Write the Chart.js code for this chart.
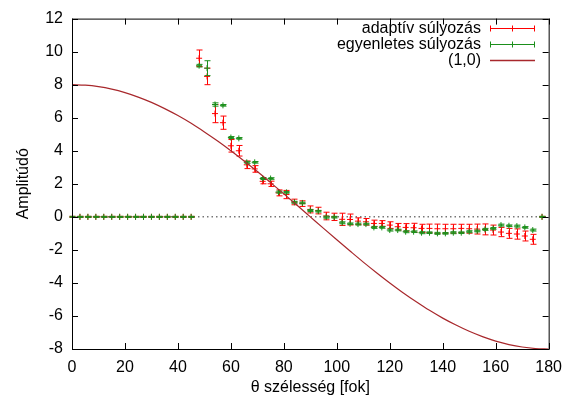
<!DOCTYPE html>
<html>
<head>
<meta charset="utf-8">
<script src="https://cdn.jsdelivr.net/npm/chart.js@4/dist/chart.umd.min.js"></script>
<style>
  html, body { margin: 0; padding: 0; background: #fff; }
  #wrap { width: 571px; height: 403px; }
</style>
</head>
<body>
<div id="wrap"><canvas id="chart" width="571" height="403"></canvas></div>
<script>
// angles (deg) of the measured points
const angles = [0, 3, 6, 9, 12, 15, 18, 21, 24, 27, 30, 33, 36, 39, 42, 45,
  48, 51, 54, 57, 60, 63, 66, 69, 72, 75, 78, 81, 84, 87, 90, 93, 96, 99,
  102, 105, 108, 111, 114, 117, 120, 123, 126, 129, 132, 135, 138, 141, 144,
  147, 150, 153, 156, 159, 162, 165, 168, 171, 174, 177.5];

// adaptív súlyozás
const adaptive = [0, 0, 0, 0, 0, 0, 0, 0, 0, 0, 0, 0, 0, 0, 0, 0,
  9.6, 8.5, 6.25, 5.7, 4.3, 4.0, 3.15, 2.9, 2.15, 2.0, 1.45, 1.35, 0.9, 0.8,
  0.45, 0.38, 0.05, 0.0, -0.15, -0.16, -0.26, -0.3, -0.4, -0.4, -0.5, -0.6,
  -0.64, -0.66, -0.7, -0.7, -0.72, -0.72, -0.72, -0.7, -0.72, -0.74, -0.76,
  -0.8, -0.92, -1.0, -1.04, -1.16, -1.36, 0];
const adaptiveErr = [0.03, 0.03, 0.03, 0.03, 0.03, 0.03, 0.03, 0.03, 0.03, 0.03, 0.03, 0.03, 0.03, 0.03, 0.03, 0.03,
  0.5, 0.5, 0.55, 0.4, 0.38, 0.32, 0.23, 0.2, 0.15, 0.16, 0.18, 0.25, 0.17, 0.17,
  0.21, 0.2, 0.23, 0.22, 0.37, 0.33, 0.2, 0.2, 0.2, 0.17, 0.2, 0.2,
  0.23, 0.27, 0.25, 0.26, 0.28, 0.27, 0.27, 0.25, 0.27, 0.3, 0.33,
  0.3, 0.28, 0.3, 0.31, 0.3, 0.3, 0.03];

// egyenletes súlyozás
const uniform = [0, 0, 0, 0, 0, 0, 0, 0, 0, 0, 0, 0, 0, 0, 0, 0,
  9.15, 9.0, 6.8, 6.75, 4.8, 4.75, 3.3, 3.3, 2.32, 2.32, 1.5, 1.48, 0.88, 0.84,
  0.38, 0.34, -0.02, -0.02, -0.36, -0.42, -0.44, -0.44, -0.64, -0.64, -0.8, -0.8,
  -0.9, -0.9, -0.96, -0.96, -1.0, -1.0, -0.96, -0.96, -0.9, -0.86, -0.76,
  -0.7, -0.5, -0.54, -0.56, -0.64, -0.8, 0];
const uniformErr = [0.03, 0.03, 0.03, 0.03, 0.03, 0.03, 0.03, 0.03, 0.03, 0.03, 0.03, 0.03, 0.03, 0.03, 0.03, 0.03,
  0.08, 0.45, 0.1, 0.05, 0.06, 0.05, 0.06, 0.05, 0.06, 0.05, 0.06, 0.05, 0.06, 0.05,
  0.06, 0.05, 0.06, 0.05, 0.06, 0.05, 0.06, 0.05, 0.06, 0.05, 0.06, 0.05,
  0.06, 0.05, 0.06, 0.05, 0.06, 0.05, 0.06, 0.05, 0.06, 0.05, 0.06,
  0.05, 0.06, 0.05, 0.06, 0.05, 0.06, 0.03];

// (1,0) curve, read every 5 degrees
const curveAngles = [0, 5, 10, 15, 20, 25, 30, 35, 40, 45, 50, 55, 60, 65, 70, 75, 80, 85, 90,
  95, 100, 105, 110, 115, 120, 125, 130, 135, 140, 145, 150, 155, 160, 165, 170, 175, 180];
const curveVals = [8.0, 7.97, 7.88, 7.73, 7.52, 7.25, 6.93, 6.55, 6.13, 5.66, 5.14, 4.59, 4.0,
  3.38, 2.74, 2.07, 1.39, 0.7, 0, -0.7, -1.39, -2.07, -2.74, -3.38, -4.0, -4.59, -5.14,
  -5.66, -6.13, -6.55, -6.93, -7.25, -7.52, -7.73, -7.88, -7.97, -8.0];

const xTicks = [0, 20, 40, 60, 80, 100, 120, 140, 160, 180];
const yTicks = [-8, -6, -4, -2, 0, 2, 4, 6, 8, 10, 12];

const RED = "#ff0000", GREEN = "#1b8f1b", CURVE = "#a8282c";
const FONT = "'Liberation Sans', Arial, sans-serif";

const pts = (xs, ys) => xs.map((x, i) => ({ x, y: ys[i] }));

// error bars per dataset, so they layer with their own points
const errorBars = {
  id: "errorBars",
  afterDatasetDraw(chart, args) {
    const ds = chart.data.datasets[args.index];
    if (!ds.errors) return;
    const { ctx, scales: { x, y } } = chart;
    ctx.save();
    ctx.strokeStyle = ds.borderColor;
    ctx.lineWidth = 1;
    ds.data.forEach((p, i) => {
      const e = ds.errors[i];
      const px = Math.round(x.getPixelForValue(p.x)) + 0.5;
      const y1 = y.getPixelForValue(p.y + e), y2 = y.getPixelForValue(p.y - e);
      ctx.beginPath();
      ctx.moveTo(px, y1); ctx.lineTo(px, y2);
      ctx.moveTo(px - 3, y1); ctx.lineTo(px + 3, y1);
      ctx.moveTo(px - 3, y2); ctx.lineTo(px + 3, y2);
      ctx.stroke();
    });
    ctx.restore();
  }
};

// gnuplot-like frame, inward ticks and key
const frame = {
  id: "frame",
  afterDraw(chart) {
    const { ctx, chartArea: a, scales: { x, y } } = chart;
    ctx.save();
    ctx.strokeStyle = "#000";
    ctx.lineWidth = 1;
    ctx.strokeRect(a.left + 0.5, a.top + 0.5, a.right - a.left, a.bottom - a.top);
    ctx.beginPath();
    xTicks.forEach(v => {
      const px = Math.round(x.getPixelForValue(v)) + 0.5;
      ctx.moveTo(px, a.bottom); ctx.lineTo(px, a.bottom - 6);
      ctx.moveTo(px, a.top); ctx.lineTo(px, a.top + 6);
    });
    yTicks.forEach(v => {
      const py = Math.round(y.getPixelForValue(v)) + 0.5;
      ctx.moveTo(a.left, py); ctx.lineTo(a.left + 6, py);
      ctx.moveTo(a.right, py); ctx.lineTo(a.right - 6, py);
    });
    ctx.stroke();

    // key
    const rows = [
      { label: "adaptív súlyozás", color: RED, err: true },
      { label: "egyenletes súlyozás", color: GREEN, err: true },
      { label: "(1,0)", color: CURVE, err: false }
    ];
    ctx.font = "16px " + FONT;
    ctx.textAlign = "right";
    ctx.textBaseline = "middle";
    rows.forEach((r, i) => {
      const ty = 28 + i * 16;
      ctx.fillStyle = "#000";
      ctx.fillText(r.label, 481, ty + 1);
      ctx.strokeStyle = r.color;
      ctx.beginPath();
      const ly = ty + 0.5;
      ctx.moveTo(490, ly); ctx.lineTo(535, ly);
      if (r.err) {
        ctx.moveTo(490.5, ly - 3); ctx.lineTo(490.5, ly + 3);
        ctx.moveTo(534.5, ly - 3); ctx.lineTo(534.5, ly + 3);
        ctx.moveTo(512.5, ly - 3); ctx.lineTo(512.5, ly + 3);
      }
      ctx.lineWidth = r.err ? 1 : 1.3;
      ctx.stroke();
    });
    ctx.restore();
  }
};

new Chart(document.getElementById("chart"), {
  type: "scatter",
  data: {
    datasets: [
      {
        label: "zero",
        data: [{ x: 0, y: 0 }, { x: 180, y: 0 }],
        showLine: true,
        borderColor: "#333",
        borderWidth: 1,
        borderDash: [1.5, 3],
        pointRadius: 0,
        order: 5
      },
      {
        label: "adaptív súlyozás",
        data: pts(angles, adaptive),
        errors: adaptiveErr,
        borderColor: RED,
        backgroundColor: RED,
        pointStyle: "crossRot",
        pointRotation: 45,
        pointRadius: 3,
        pointBorderWidth: 1,
        order: 3
      },
      {
        label: "egyenletes súlyozás",
        data: pts(angles, uniform),
        errors: uniformErr,
        borderColor: GREEN,
        backgroundColor: GREEN,
        pointStyle: "crossRot",
        pointRotation: 45,
        pointRadius: 3,
        pointBorderWidth: 1,
        order: 2
      },
      {
        label: "(1,0)",
        data: pts(curveAngles, curveVals),
        showLine: true,
        borderColor: CURVE,
        borderWidth: 1.2,
        pointRadius: 0,
        cubicInterpolationMode: "monotone",
        order: 1
      }
    ]
  },
  options: {
    responsive: false,
    animation: false,
    layout: { padding: { top: 14, right: 19, left: 0, bottom: 0 } },
    plugins: { legend: { display: false }, tooltip: { enabled: false } },
    scales: {
      x: {
        type: "linear",
        min: 0, max: 180,
        afterBuildTicks: s => { s.ticks = xTicks.map(v => ({ value: v })); },
        afterFit: s => { s.height = 54; },
        grid: { display: false, drawTicks: false },
        border: { display: false },
        ticks: { color: "#000", font: { size: 16, family: FONT }, padding: 9, maxRotation: 0 },
        title: { display: true, text: "θ szélesség [fok]", color: "#000",
          font: { size: 16, family: FONT }, padding: { bottom: 6 } }
      },
      y: {
        min: -8, max: 12,
        afterBuildTicks: s => { s.ticks = yTicks.map(v => ({ value: v })); },
        afterFit: s => { s.width = 72; },
        grid: { display: false, drawTicks: false },
        border: { display: false },
        ticks: { color: "#000", font: { size: 16, family: FONT }, padding: 9 },
        title: { display: true, text: "Amplitúdó", color: "#000",
          font: { size: 16, family: FONT }, padding: { top: 14 } }
      }
    }
  },
  plugins: [errorBars, frame]
});
</script>
</body>
</html>
